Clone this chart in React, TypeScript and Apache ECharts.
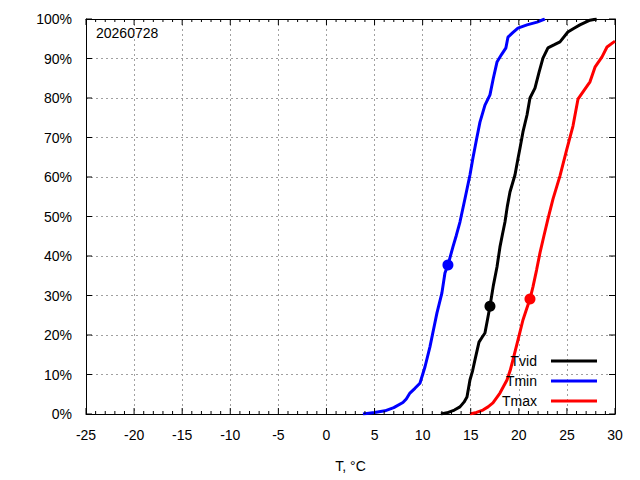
import React, { useEffect, useRef } from "react";
import * as echarts from "echarts";

const dateLabel = "20260728";
const xAxisName = "T, °C";
const seriesNames = ["Tvid", "Tmin", "Tmax"];
const seriesColors = ["#000000", "#0000ff", "#ff0000"];

// [T, cumulative %]
const tvid: [number, number][] = [
  [11.9, 0], [12.53, 0.3], [13.3, 1.0], [13.88, 1.8], [14.3, 3.0], [14.61, 4.3],
  [14.92, 8.6], [15.2, 11.0], [15.44, 13.7], [15.86, 18.2], [16.2, 19.5],
  [16.48, 20.5], [16.75, 24.0], [17.0, 27.3], [17.35, 32.5], [17.73, 37.2],
  [18.04, 42.3], [18.3, 45.5], [18.56, 48.6], [18.8, 52.5], [19.08, 56.2],
  [19.6, 60.5], [19.9, 64.5], [20.12, 67.3], [20.43, 71.4], [20.85, 75.7],
  [21.16, 80.0], [21.68, 82.5], [22.1, 86.5], [22.51, 90.1], [23.03, 92.7],
  [23.7, 93.5], [24.28, 94.2], [25.1, 96.7], [25.7, 97.6], [26.35, 98.5],
  [27.4, 99.7], [28.1, 100],
];
const tmin: [number, number][] = [
  [3.8, 0], [5.0, 0.4], [6.08, 0.8], [7.0, 1.6], [7.95, 2.9], [8.3, 3.8],
  [8.68, 5.3], [9.2, 6.5], [9.72, 7.8], [10.24, 11.9], [10.76, 17.0],
  [11.1, 21.0], [11.49, 25.6], [12.0, 30.6], [12.32, 35.7], [12.63, 37.7],
  [13.15, 42.3], [13.5, 45.2], [13.88, 48.6], [14.4, 54.5], [14.92, 60.5],
  [15.23, 64.8], [15.6, 69.5], [15.96, 73.9], [16.48, 78.2], [17.0, 80.8],
  [17.35, 85.0], [17.73, 89.1], [18.2, 91.0], [18.66, 92.7], [18.87, 95.4],
  [19.4, 96.6], [19.91, 97.7], [20.85, 98.5], [21.9, 99.2], [22.7, 100],
];
const tmax: [number, number][] = [
  [14.92, 0], [15.6, 0.4], [16.27, 1.0], [16.8, 1.8], [17.31, 2.8],
  [18.04, 5.3], [18.77, 8.6], [19.1, 11.0], [19.39, 13.7], [19.91, 18.7],
  [20.43, 23.8], [20.8, 26.5], [21.16, 29.1], [21.47, 32.2], [21.85, 36.5],
  [22.2, 40.8], [22.6, 45.0], [23.03, 49.4], [23.55, 54.4], [24.28, 60.3],
  [25.0, 67.1], [25.63, 72.9], [26.15, 79.7], [26.8, 82.0], [27.4, 84.1],
  [27.92, 87.8], [28.65, 90.4], [29.17, 92.9], [30.0, 94.4],
];
const medianPoints: [number, number][][] = [[[17.0, 27.3]], [[12.63, 37.7]], [[21.16, 29.1]]];

const xTicks = { min: -25, max: 30, interval: 5 };
const yTicks = { min: 0, max: 100, interval: 10 };
const xMajorTicks = [-25, -20, -15, -10, -5, 0, 5, 10, 15, 20, 25, 30];
const xMinorTicks = [
  -24, -23, -22, -21, -19, -18, -17, -16, -14, -13, -12, -11, -9, -8, -7, -6,
  -4, -3, -2, -1, 1, 2, 3, 4, 6, 7, 8, 9, 11, 12, 13, 14, 16, 17, 18, 19,
  21, 22, 23, 24, 26, 27, 28, 29,
];
const yMajorTicks = [0, 10, 20, 30, 40, 50, 60, 70, 80, 90, 100];

const FONT = "Liberation Sans, Arial, sans-serif";

const gridLine = () => ({ show: true, lineStyle: { color: "#a0a0a0", type: [2, 3] as any, width: 1 } });
const axisLine = () => ({ show: true, onZero: false, lineStyle: { color: "#000", width: 1 } });

export default function App() {
  const ref = useRef<HTMLDivElement>(null);
  useEffect(() => {
    if (!ref.current) return;
    const chart = echarts.init(ref.current, undefined, { renderer: "svg" });
    const curves = [tvid, tmin, tmax];
    const legendY = [361, 381, 401];
    const graphics: any[] = [
      {
        type: "text", left: 96, top: 26,
        style: { text: dateLabel, font: `14px ${FONT}`, fill: "#000" },
      },
    ];
    seriesNames.forEach((n, i) => {
      graphics.push({
        type: "text", x: 537, y: legendY[i],
        style: { text: n, font: `14px ${FONT}`, fill: "#000", align: "right", verticalAlign: "middle" },
        z: 100,
      });
      graphics.push({
        type: "line",
        shape: { x1: 551, y1: legendY[i], x2: 597, y2: legendY[i] },
        style: { stroke: seriesColors[i], lineWidth: 3 },
        z: 100,
      });
    });
    const tickSeries = (data: number[][], size: number[], offset: number[]) => ({
      type: "scatter", data, symbol: "rect", symbolSize: size, symbolOffset: offset,
      itemStyle: { color: "#000", opacity: 1 }, silent: true, clip: false, z: 20,
    });
    const major = 6;
    const minorLen = 3;
    chart.setOption({
      animation: false,
      textStyle: { fontFamily: FONT },
      grid: { left: 86, right: 25, top: 19, bottom: 66, containLabel: false },
      xAxis: [
        {
          type: "value", position: "bottom", min: xTicks.min, max: xTicks.max, interval: xTicks.interval,
          name: xAxisName, nameLocation: "middle", nameGap: 45,
          nameTextStyle: { fontSize: 14, color: "#000", fontFamily: FONT },
          axisLine: axisLine(), axisTick: { show: false },
          axisLabel: { fontSize: 14, color: "#000", margin: 14, fontFamily: FONT },
          splitLine: gridLine(),
        },
        {
          type: "value", position: "top", min: xTicks.min, max: xTicks.max, interval: xTicks.interval,
          axisLine: axisLine(), axisTick: { show: false },
          axisLabel: { show: false }, splitLine: { show: false },
        },
      ],
      yAxis: [
        {
          type: "value", position: "left", min: yTicks.min, max: yTicks.max, interval: yTicks.interval,
          axisLine: axisLine(), axisTick: { show: false },
          axisLabel: { fontSize: 14, color: "#000", margin: 14, formatter: "{value}%", fontFamily: FONT },
          splitLine: gridLine(),
        },
        {
          type: "value", position: "right", min: yTicks.min, max: yTicks.max, interval: yTicks.interval,
          axisLine: axisLine(), axisTick: { show: false },
          axisLabel: { show: false }, splitLine: { show: false },
        },
      ],
      series: [
        ...curves.map((d, i) => ({
          type: "line", name: seriesNames[i], data: d, showSymbol: false,
          lineStyle: { color: seriesColors[i], width: 3 }, z: 3 + i,
          clip: true,
        })),
        ...medianPoints.map((d, i) => ({
          type: "scatter", name: seriesNames[i] + " median", data: d,
          symbol: "circle", symbolSize: 11, itemStyle: { color: seriesColors[i], opacity: 1 }, z: 10,
        })),
        tickSeries(xMajorTicks.map((x) => [x, yTicks.min]), [1, major], [0, -major / 2]),
        tickSeries(xMinorTicks.map((x) => [x, yTicks.min]), [1, minorLen], [0, -minorLen / 2]),
        tickSeries(xMajorTicks.map((x) => [x, yTicks.max]), [1, major], [0, major / 2]),
        tickSeries(xMinorTicks.map((x) => [x, yTicks.max]), [1, minorLen], [0, minorLen / 2]),
        tickSeries(yMajorTicks.map((y) => [xTicks.min, y]), [major, 1], [major / 2, 0]),
        tickSeries(yMajorTicks.map((y) => [xTicks.max, y]), [major, 1], [-major / 2, 0]),
      ],
      graphic: graphics,
    });
    return () => chart.dispose();
  }, []);
  return <div ref={ref} style={{ width: 640, height: 480, position: "absolute", left: 0, top: 0, background: "#fff" }} />;
}
